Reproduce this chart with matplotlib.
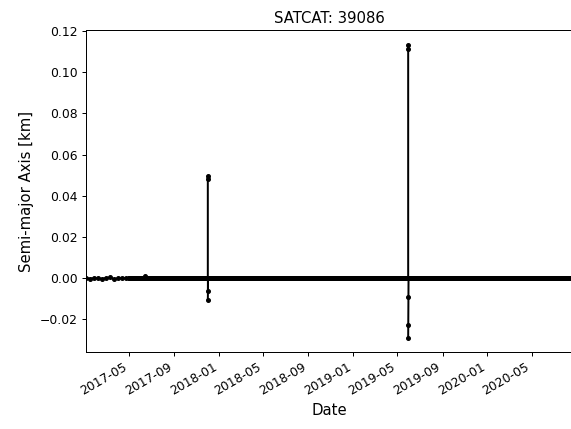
import numpy as np
import pandas as pd
import matplotlib
matplotlib.use("Agg")
import matplotlib.pyplot as plt
import matplotlib.dates as mdates

satcat = 39086

# sparse fits at the start of the record (km, relative to mean)
early_dates = ["2017-01-04", "2017-01-15", "2017-01-26", "2017-02-06", "2017-02-17",
               "2017-02-28", "2017-03-11", "2017-03-22", "2017-04-02", "2017-04-13",
               "2017-04-24"]
early_sma = [0.0, -0.0002, 0.0001, 0.0, -0.0003, 0.0002, 0.0003, -0.0004, 0.0, 0.0002, -0.0001]

# daily fits afterwards sit on zero at this scale
daily_start = "2017-05-01"
daily_end = "2020-08-21"
daily_sma = 0.0

# small bump and the two manoeuvre spikes
event_dates = ["2017-06-14 00:00", "2017-12-01 00:01", "2017-12-01 00:02", "2017-12-01 00:03",
               "2017-12-01 00:04", "2019-05-31 00:01", "2019-05-31 00:02", "2019-05-31 00:03",
               "2019-05-31 00:04", "2019-05-31 00:05"]
event_sma = [0.0008, 0.0497, 0.0480, -0.0062, -0.0107,
             0.1131, 0.1115, -0.0094, -0.0228, -0.0293]

daily = pd.date_range(daily_start, daily_end, freq="D")
series = pd.concat([
    pd.Series(early_sma, index=pd.to_datetime(early_dates)),
    pd.Series(daily_sma, index=daily),
    pd.Series(event_sma, index=pd.to_datetime(event_dates)),
]).sort_index(kind="stable")

dpi = 89.25
fig = plt.figure(figsize=(571 / dpi, 429 / dpi), dpi=dpi)
ax = fig.add_axes([86 / 571, 1 - 352 / 429, (573 - 86) / 571, (352 - 30) / 429])

ax.plot(series.index, series.values, "k.-", lw=1.2)

ax.set_xlim(pd.Timestamp(early_dates[0]), pd.Timestamp(daily_end))
ax.set_ylim(-0.0359, 0.1205)
ax.set_yticks(np.arange(-0.02, 0.121, 0.02))
ax.xaxis.set_major_locator(mdates.MonthLocator(bymonth=[1, 5, 9]))
ax.xaxis.set_major_formatter(mdates.DateFormatter("%Y-%m"))
for lab in ax.get_xticklabels():
    lab.set_rotation(30)
    lab.set_ha("right")

ax.set_title("SATCAT: %d" % satcat, fontsize=12)
ax.set_xlabel("Date", fontsize=12)
ax.set_ylabel("Semi-major Axis [km]", fontsize=12)

fig.savefig("out.png", dpi=dpi)
